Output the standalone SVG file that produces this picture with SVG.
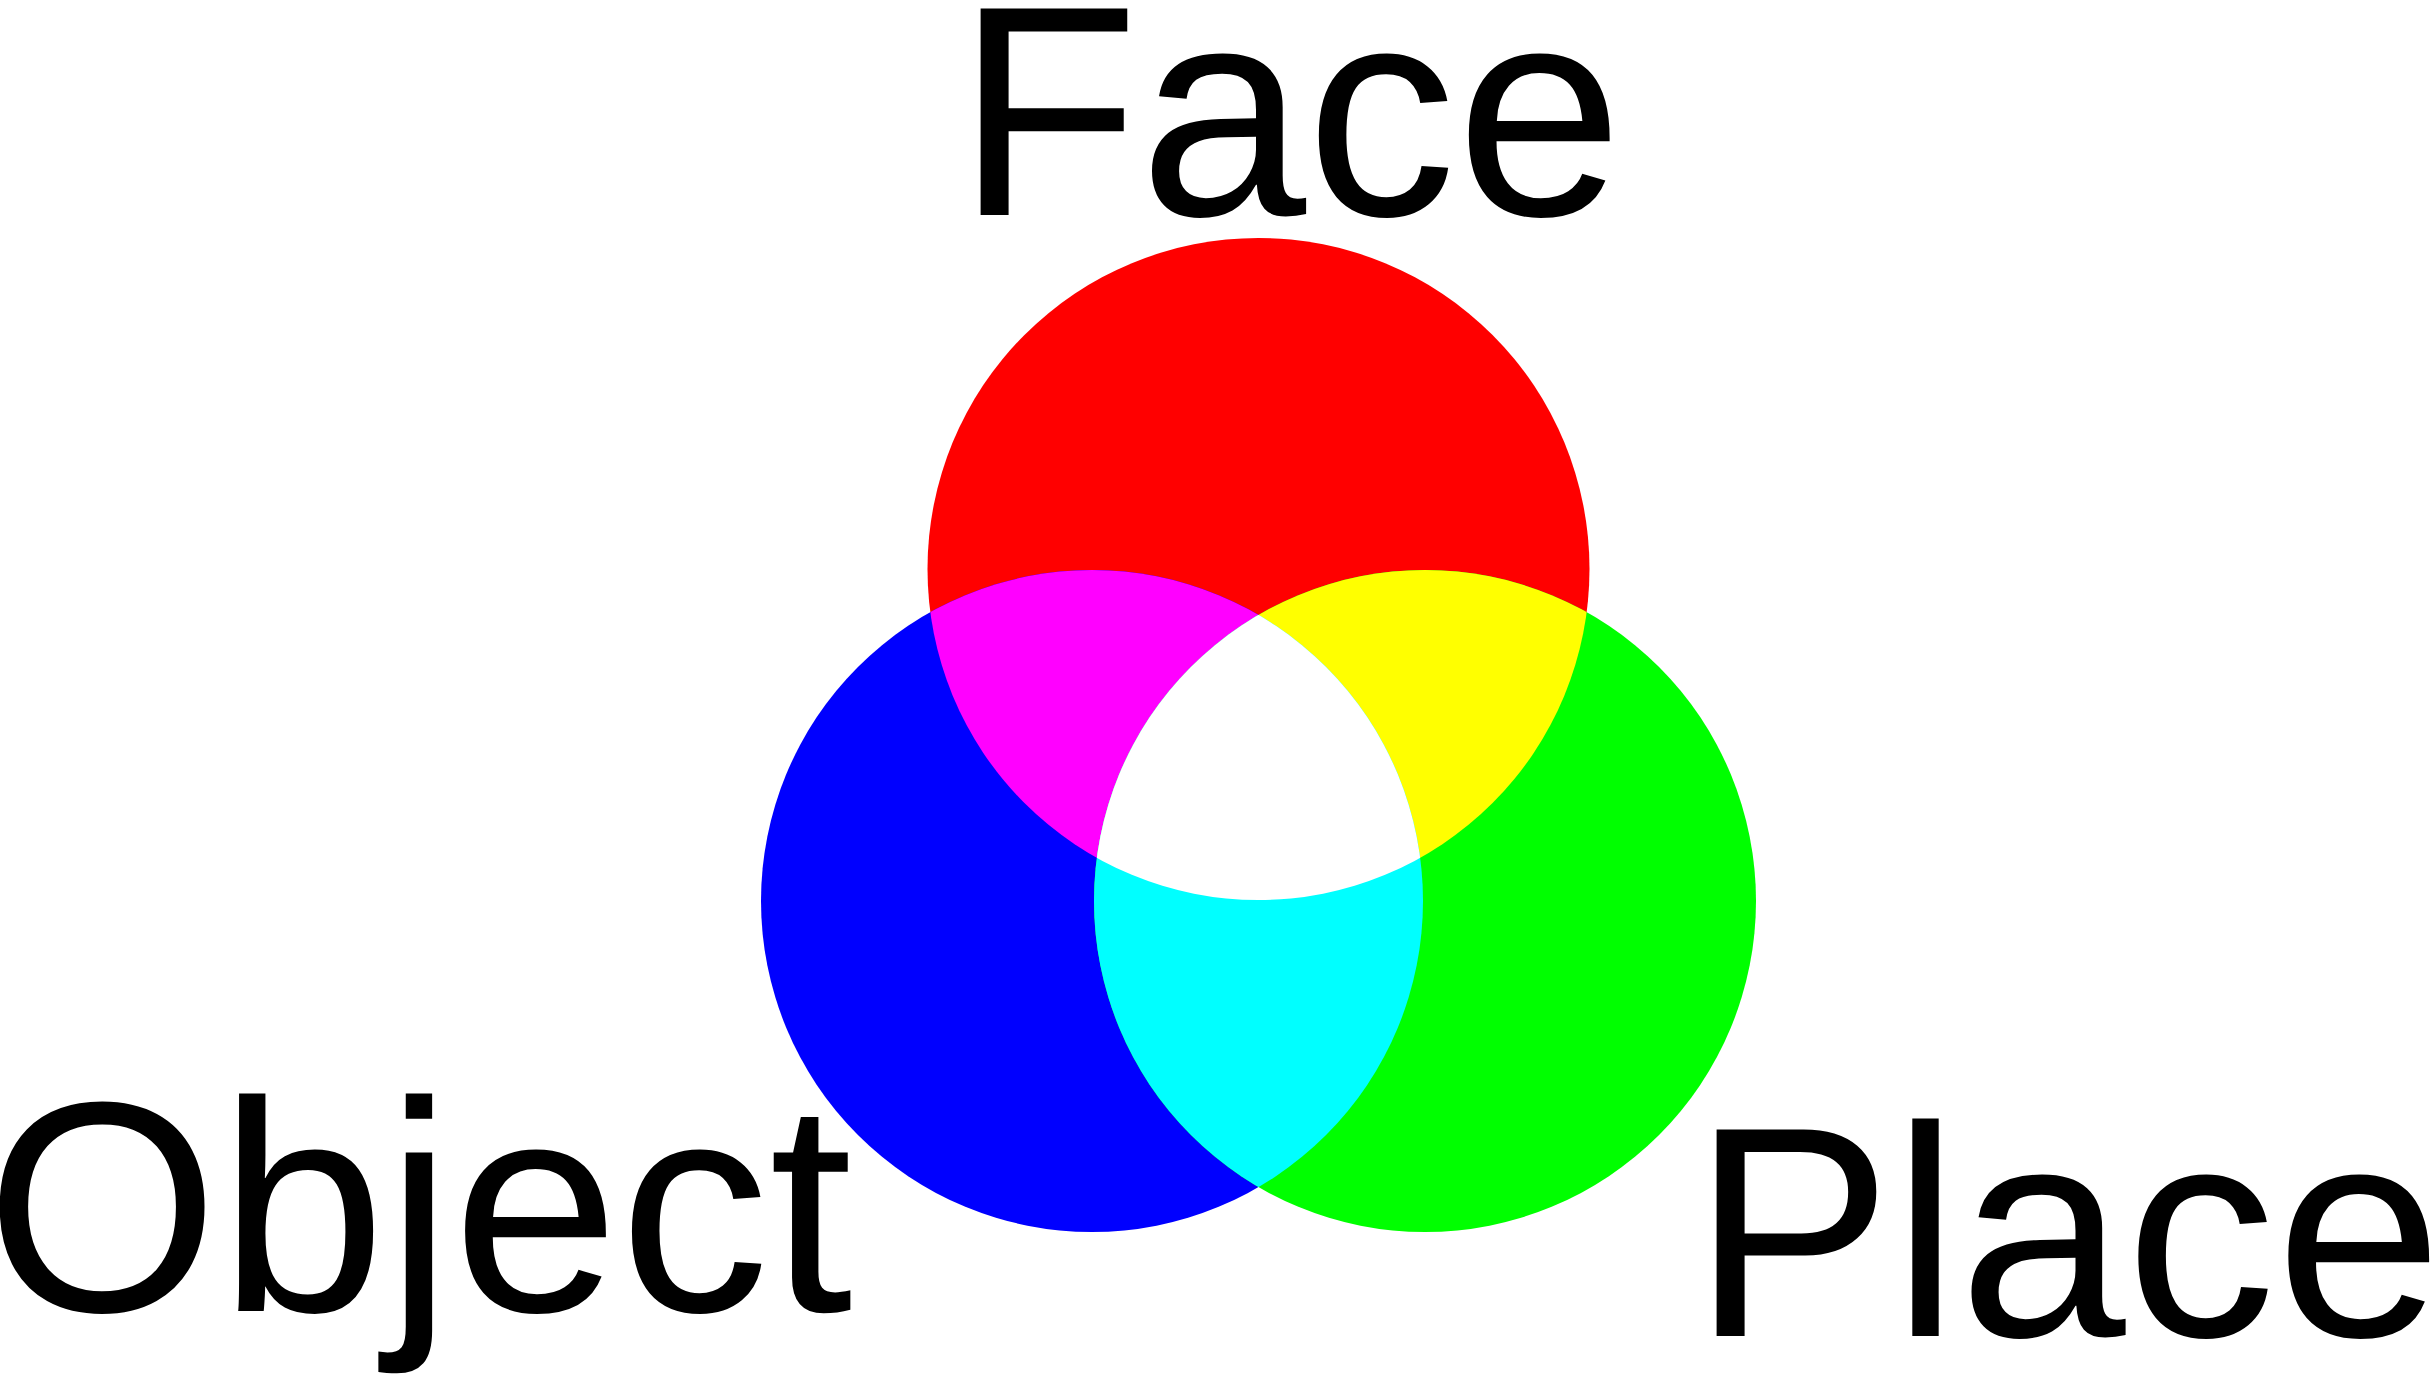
<svg xmlns="http://www.w3.org/2000/svg" xmlns:xlink="http://www.w3.org/1999/xlink" width="2431" height="1374" viewBox="0 0 2431 1374">
<style>
.lbl { font-family: "Liberation Sans", Arial, sans-serif; font-size: 300px; fill: #000000; }
</style>
<defs>
<circle id="cR" cx="1258.5" cy="569" r="331"/>
<circle id="cB" cx="1092" cy="901" r="331"/>
<circle id="cG" cx="1425" cy="901" r="331"/>
<clipPath id="clipR"><use href="#cR"/></clipPath>
<clipPath id="clipB"><use href="#cB"/></clipPath>
</defs>
<rect width="2431" height="1374" fill="#ffffff"/>
<g id="face">
<use href="#cR" fill="#ff0000"/>
<text class="lbl" x="956" y="215">Face</text>
</g>
<g id="object">
<use href="#cB" fill="#0000ff"/>
<text class="lbl" x="-14.5" y="1311">Object</text>
</g>
<g id="place">
<use href="#cG" fill="#00ff00"/>
<text class="lbl" x="1692" y="1336">Place</text>
</g>
<g id="overlaps">
<use href="#cB" fill="#ff00ff" clip-path="url(#clipR)"/>
<use href="#cG" fill="#ffff00" clip-path="url(#clipR)"/>
<use href="#cG" fill="#00ffff" clip-path="url(#clipB)"/>
<g clip-path="url(#clipR)"><use href="#cG" fill="#ffffff" clip-path="url(#clipB)"/></g>
</g>
<g id="connectors"></g>
</svg>
